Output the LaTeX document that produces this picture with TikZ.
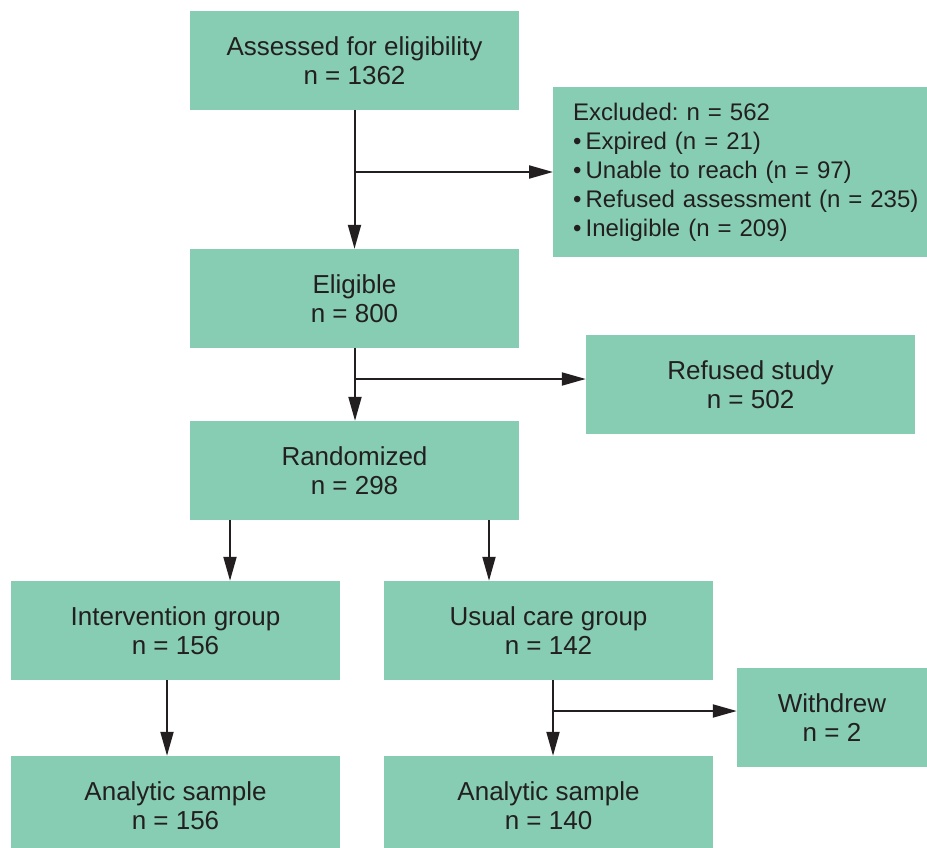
\documentclass[tikz,border=0pt]{standalone}
\usepackage{xcolor}
\usepackage{fontspec}
\setmainfont{Liberation Sans}
\frenchspacing
\usepackage{tikz}
\usetikzlibrary{calc,arrows.meta}
\definecolor{boxgreen}{HTML}{86CDB3}
\definecolor{inkgray}{HTML}{231F20}

\begin{document}
\begin{tikzpicture}[x=1pt,y=-1pt,
							every node/.style={fill=boxgreen,text=inkgray,inner sep=0pt,
								font=\fontsize{26}{29}\selectfont},
							box/.style={minimum width=329pt,minimum height=99pt,align=center},
							arr/.style={draw=inkgray,line width=2pt,-{Triangle[length=24pt,width=13pt]}}]
			\useasboundingbox (0,0) rectangle (927,848);
			% boxes
			\node[box] (assess) at (354.5,60.5) {Assessed for eligibility\\n = 1362};
			\node[anchor=west,minimum height=170pt,inner xsep=20pt,text width=380pt,align=left,
				font=\fontsize{24}{29}\selectfont] (excl) at (553,172)
				{Excluded: n = 562\\
				 \textbullet\,Expired (n = 21)\\
				 \textbullet\,Unable to reach (n = 97)\\
				 \textbullet\,Refused assessment (n = 235)\\
				 \textbullet\,Ineligible (n = 209)};
			\node[box] (elig) at (354.5,298.5) {Eligible\\n = 800};
			\node[box] (refused) at (750.5,384.5) {Refused study\\n = 502};
			\node[box] (rand) at (354.5,470.5) {Randomized\\n = 298};
			\node[box] (inter) at (175.5,630.5) {Intervention group\\n = 156};
			\node[box] (usual) at (548.5,630.5) {Usual care group\\n = 142};
			\node[box,minimum width=190pt] (withdrew) at (832,717.5) {Withdrew\\n = 2};
			\node[box] (anaA) at (175.5,805.5) {Analytic sample\\n = 156};
			\node[box] (anaB) at (548.5,805.5) {Analytic sample\\n = 140};
			% connectors
			\coordinate (b1) at (354,172);
			\coordinate (b2) at (355,379);
			\coordinate (r1) at (230,520);
			\coordinate (r2) at (489,520);
			\coordinate (i1) at (167,680);
			\coordinate (u1) at (553,680);
			\coordinate (b3) at (553,711);
			\draw[arr] (assess.south) -- (elig.north);
			\draw[arr] (b1) -- (excl.west |- b1);
			\draw[arr] (elig.south -| b2) -- (rand.north -| b2);
			\draw[arr] (b2) -- (refused.west |- b2);
			\draw[arr] (r1) -- (r1 |- inter.north);
			\draw[arr] (r2) -- (r2 |- usual.north);
			\draw[arr] (i1) -- (i1 |- anaA.north);
			\draw[arr] (u1) -- (u1 |- anaB.north);
			\draw[arr] (b3) -- (withdrew.west |- b3);
		\end{tikzpicture}
\end{document}
